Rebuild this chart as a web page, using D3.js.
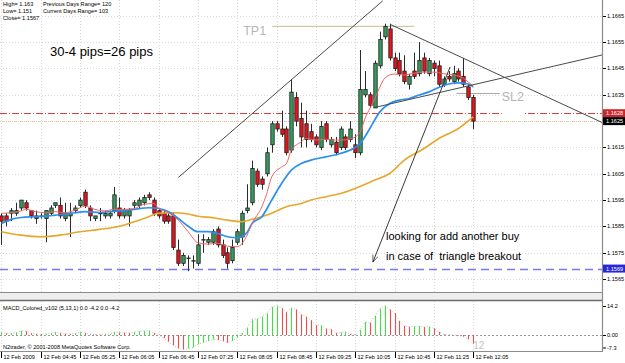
<!DOCTYPE html>
<html>
<head>
<meta charset="utf-8">
<script src="https://cdn.jsdelivr.net/npm/d3@7"></script>
<style>
  body { margin: 0; background: #fff; }
  svg { display: block; font-family: "Liberation Sans", Arial, sans-serif; }
</style>
</head>
<body>
<div id="chart"></div>
<script>
// ---- data (EURUSD-like M5, 12 Feb 2009) ----
var timeLabels = ["12 Feb 2009", "12 Feb 04:45", "12 Feb 05:25", "12 Feb 06:05", "12 Feb 06:45",
  "12 Feb 07:25", "12 Feb 08:05", "12 Feb 08:45", "12 Feb 09:25", "12 Feb 10:05",
  "12 Feb 10:45", "12 Feb 11:25", "12 Feb 12:05"];
var barsPerLabel = 8;

var open = [1.1589,1.1589,1.1590,1.1590,1.1592,1.1594,1.1591,1.1589,1.1589,1.1588,
  1.1590,1.1593,1.1593,1.1588,1.1589,1.1591,1.1593,1.1598,1.1592,1.1588,
  1.1590,1.1589,1.1589,1.1591,1.1592,1.1589,1.1589,1.1593,1.1593,1.1594,
  1.1597,1.1595,1.1591,1.1590,1.1589,1.1589,1.1576,1.1571,1.1573,1.1572,
  1.1571,1.1580,1.1579,1.1579,1.1584,1.1578,1.1575,1.1572,1.1579,1.1581,
  1.1591,1.1594,1.1606,1.1603,1.1605,1.1616,1.1624,1.1622,1.1622,1.1614,
  1.1634,1.1626,1.1624,1.1621,1.1619,1.1615,1.1624,1.1616,1.1617,1.1615,
  1.1619,1.1618,1.1616,1.1613,1.1635,1.1635,1.1630,1.1646,1.1657,1.1660,
  1.1649,1.1648,1.1644,1.1639,1.1644,1.1643,1.1649,1.1643,1.1647,1.1646,
  1.1639,1.1642,1.1640,1.1644,1.1642,1.1638,1.1634];
var high = [1.1590,1.1590,1.1592,1.1594,1.1595,1.1595,1.1591,1.1591,1.1590,1.1591,
  1.1593,1.1594,1.1596,1.1594,1.1594,1.1593,1.1596,1.1599,1.1593,1.1589,
  1.1592,1.1591,1.1591,1.1600,1.1596,1.1592,1.1592,1.1595,1.1596,1.1597,
  1.1598,1.1596,1.1592,1.1591,1.1590,1.1590,1.1580,1.1575,1.1574,1.1574,
  1.1582,1.1582,1.1581,1.1584,1.1585,1.1580,1.1577,1.1580,1.1584,1.1591,
  1.1601,1.1610,1.1607,1.1604,1.1615,1.1625,1.1625,1.1629,1.1623,1.1641,
  1.1636,1.1632,1.1629,1.1624,1.1620,1.1625,1.1625,1.1619,1.1619,1.1623,
  1.1620,1.1625,1.1620,1.1652,1.1644,1.1636,1.1648,1.1659,1.1662,1.1662,
  1.1651,1.1651,1.1650,1.1643,1.1651,1.1655,1.1651,1.1649,1.1648,1.1648,
  1.1642,1.1644,1.1646,1.1645,1.1649,1.1639,1.1635];
var low = [1.1578,1.1585,1.1587,1.1589,1.1591,1.1591,1.1588,1.1586,1.1588,1.1579,
  1.1589,1.1592,1.1588,1.1587,1.1581,1.1590,1.1592,1.1592,1.1587,1.1587,
  1.1587,1.1588,1.1588,1.1590,1.1588,1.1588,1.1585,1.1592,1.1592,1.1593,
  1.1595,1.1589,1.1588,1.1586,1.1586,1.1576,1.1570,1.1570,1.1568,1.1569,
  1.1570,1.1575,1.1578,1.1578,1.1577,1.1573,1.1569,1.1571,1.1578,1.1578,
  1.1590,1.1593,1.1600,1.1599,1.1604,1.1613,1.1621,1.1619,1.1612,1.1613,
  1.1623,1.1615,1.1615,1.1617,1.1615,1.1614,1.1617,1.1615,1.1612,1.1614,
  1.1614,1.1617,1.1611,1.1612,1.1634,1.1630,1.1630,1.1645,1.1656,1.1648,
  1.1644,1.1642,1.1639,1.1637,1.1641,1.1642,1.1643,1.1642,1.1642,1.1638,
  1.1638,1.1640,1.1639,1.1640,1.1638,1.1633,1.1622];
var close = [1.1587,1.1587,1.1591,1.1591,1.1595,1.1592,1.1589,1.1588,1.1589,1.1591,
  1.1592,1.1594,1.1589,1.1590,1.1590,1.1592,1.1595,1.1593,1.1589,1.1589,
  1.1590,1.1590,1.1590,1.1597,1.1589,1.1591,1.1591,1.1594,1.1595,1.1596,
  1.1596,1.1590,1.1589,1.1587,1.1587,1.1577,1.1571,1.1574,1.1573,1.1572,
  1.1578,1.1580,1.1580,1.1583,1.1578,1.1574,1.1571,1.1577,1.1583,1.1590,
  1.1592,1.1607,1.1601,1.1601,1.1613,1.1624,1.1622,1.1620,1.1613,1.1636,
  1.1625,1.1619,1.1618,1.1618,1.1616,1.1623,1.1618,1.1618,1.1613,1.1622,
  1.1615,1.1622,1.1613,1.1637,1.1637,1.1631,1.1647,1.1656,1.1661,1.1649,
  1.1645,1.1643,1.1640,1.1642,1.1642,1.1648,1.1644,1.1648,1.1645,1.1639,
  1.1641,1.1641,1.1643,1.1641,1.1639,1.1634,1.1625];

// moving averages, sampled at the bars where they were read
var maFastBars = [0,2,4,5,7,9,11,13,15,17,19,21,23,25,27,29,31,32,34,36,38,40,42,44,46,48,50,51,53,54,
  55,57,58,59,61,62,64,66,68,69,71,73,74,75,76,77,78,80,82,84,86,88,90,92,94,95,96];
var maFast = [1.15900,1.15902,1.15909,1.15915,1.15906,1.15902,1.15906,1.15902,1.15912,1.15927,
  1.15915,1.15909,1.15915,1.15915,1.15918,1.15934,1.15937,1.15918,1.15902,1.15874,
  1.15830,1.15788,1.15783,1.15786,1.15775,1.15773,1.15817,1.15861,1.15925,1.15975,
  1.16038,1.16076,1.16089,1.16140,1.16171,1.16184,1.16178,1.16181,1.16178,1.16178,
  1.16182,1.16208,1.16261,1.16299,1.16337,1.16379,1.16413,1.16429,1.16425,1.16432,
  1.16436,1.16436,1.16430,1.16425,1.16413,1.16398,1.16383];
var maMidBars = [0,2,4,7,9,11,13,15,17,20,22,24,27,30,32,34,36,38,40,42,44,46,48,49,50,51,53,55,57,59,
  61,63,66,69,71,73,75,77,79,81,83,85,87,89,91,93,95,96];
var maMid = [1.15861,1.15877,1.15884,1.15887,1.15889,1.15893,1.15897,1.15902,1.15906,1.15903,
  1.15906,1.15909,1.15915,1.15921,1.15918,1.15906,1.15880,1.15851,1.15830,1.15830,
  1.15823,1.15811,1.15807,1.15811,1.15828,1.15861,1.15887,1.15950,1.16013,1.16064,
  1.16089,1.16102,1.16114,1.16127,1.16140,1.16165,1.16223,1.16285,1.16317,1.16330,
  1.16336,1.16349,1.16361,1.16378,1.16391,1.16395,1.16391,1.16380];
var maSlowBars = [0,4,8,12,16,20,24,27,30,32,35,38,40,43,46,49,51,53,55,58,61,63,66,69,76,79,82,86,89,93,96];
var maSlow = [1.15830,1.15817,1.15811,1.15817,1.15830,1.15839,1.15851,1.15868,1.15887,1.15900,
  1.15902,1.15897,1.15889,1.15883,1.15874,1.15868,1.15877,1.15887,1.15900,1.15925,
  1.15937,1.15950,1.15963,1.15975,1.16026,1.16051,1.16102,1.16146,1.16184,1.16222,1.16266];

var macd = [1.2,0.8,0.9,1.2,2.0,1.8,0.9,0.5,0.4,0.6,
  0.9,1.3,1.0,0.6,0.5,0.8,1.3,1.0,0.4,0.2,
  0.2,0.4,0.5,1.4,1.2,1.1,1.0,1.4,1.8,2.0,
  2.1,1.0,0.1,-1.5,-3.2,-5.0,-6.5,-7.0,-6.6,-6.1,
  -4.5,-3.7,-2.9,-2.1,-2.4,-2.9,-3.7,-2.9,-1.3,1.0,
  3.5,7.6,7.9,8.9,10.5,13.7,14.2,13.2,11.1,13.2,
  12.4,10.0,8.9,7.3,4.7,4.8,3.1,2.8,1.0,1.3,
  1.5,0.5,0.2,2.5,6.3,6.0,9.2,12.8,14.2,12.4,
  10.5,6.8,4.4,4.0,4.2,4.3,3.9,4.0,3.2,1.5,
  0.3,0.1,0.0,-0.2,-0.8,-2.1,-4.2];

var priceTicks = [1.1665, 1.1655, 1.1645, 1.1635, 1.1615, 1.1605, 1.1595, 1.1585, 1.1575, 1.1565];
var macdTicks = [14.2, 0, -7.3];
var macdTickLabels = ["14.2", "0.00", "-7.3"];

// horizontal levels: red dash-dot, bid (tan dotted), blue dashed
var levelPrices = [1.1628, 1.1625, 1.1569];

// drawn objects: [bar, price] pairs
var risingLine = [[36.0, 1.16036], [77.6, 1.16707]];
var triUpper = [[79.06, 1.16618], [122.2, 1.16245]];
var triLower = [[76.0, 1.16302], [122.2, 1.16501]];
var arrowLine = [[91.3, 1.16456], [75.6, 1.15715]];
var tp1Line = [[55.1, 1.1661], [84.0, 1.1661]];
var sl2Line = [[92.6, 1.16355], [101.4, 1.16355]];

var infoRows = [["High= 1.163", "Previous Days Range= 120"],
  ["Low= 1.151", "Current Days Range= 103"],
  ["Close= 1.1567", ""]];

// ---- layout ----
var W = 625, H = 363;
var axisX = 602;
var mainBottom = 292;
var macdTop = 301, macdBottom = 351;
var small = 5.6;

var svg = d3.select("#chart").append("svg")
    .attr("width", W)
    .attr("height", H);

svg.append("rect").attr("width", W).attr("height", H).attr("fill", "#ffffff");

var x = d3.scaleLinear().domain([0, 96]).range([1.4, 473.2]);
var y = d3.scaleLinear().domain([1.15601, 1.16710]).range([mainBottom, 0]);
var ym = d3.scaleLinear().domain([-7.76, 16.5]).range([macdBottom, macdTop]);

var defs = svg.append("defs");
defs.append("clipPath").attr("id", "clipMain")
  .append("rect").attr("x", 0).attr("y", 0).attr("width", axisX).attr("height", mainBottom);
defs.append("marker")
    .attr("id", "arrowHead")
    .attr("viewBox", "0 0 10 10")
    .attr("refX", 10).attr("refY", 5)
    .attr("markerWidth", 7).attr("markerHeight", 7)
    .attr("orient", "auto")
  .append("path")
    .attr("d", "M0,1L10,5L0,9")
    .attr("fill", "none")
    .attr("stroke", "#333");

// grid (dotted)
var grid = svg.append("g").attr("stroke", "#dadada").attr("stroke-dasharray", "1,2");
priceTicks.concat([1.1625]).forEach(function(p) {
  var yy = Math.round(y(p)) + 0.5;
  grid.append("line").attr("x1", 0).attr("x2", axisX).attr("y1", yy).attr("y2", yy);
});
timeLabels.forEach(function(t, k) {
  var xx = Math.round(x(k * barsPerLabel)) + 0.5;
  grid.append("line").attr("x1", xx).attr("x2", xx).attr("y1", 0).attr("y2", mainBottom);
  grid.append("line").attr("x1", xx).attr("x2", xx).attr("y1", macdTop).attr("y2", macdBottom);
});

var main = svg.append("g").attr("clip-path", "url(#clipMain)");

// level lines
var levelStyle = [
  {stroke: "#e0403c", dash: "7,2,1,2", w: 1},
  {stroke: "#e6c494", dash: "1,1", w: 1},
  {stroke: "#7a7aee", dash: "8,5", w: 1.5}
];
levelPrices.forEach(function(p, k) {
  var yy = Math.round(y(p)) + 0.5;
  main.append("line")
      .attr("x1", 0).attr("x2", axisX).attr("y1", yy).attr("y2", yy)
      .attr("stroke", levelStyle[k].stroke)
      .attr("stroke-width", levelStyle[k].w)
      .attr("stroke-dasharray", levelStyle[k].dash);
});

// TP1 / SL2 short lines
function seg(g, pts) {
  return g.append("line")
      .attr("x1", x(pts[0][0])).attr("y1", y(pts[0][1]))
      .attr("x2", x(pts[1][0])).attr("y2", y(pts[1][1]));
}
seg(main, tp1Line).attr("stroke", "#cdb999").attr("stroke-width", 1);
seg(main, sl2Line).attr("stroke", "#a8a8a8").attr("stroke-width", 1);

// white patch under SL2 label
main.append("rect")
    .attr("x", x(101.8)).attr("y", y(1.16325))
    .attr("width", 23).attr("height", 16)
    .attr("fill", "#ffffff");

// candles
var bars = d3.range(open.length);
var candles = main.append("g");
bars.forEach(function(i) {
  var cx = Math.round(x(i)) + 0.5;
  var up = close[i] >= open[i];
  candles.append("line")
      .attr("x1", cx).attr("x2", cx)
      .attr("y1", y(high[i])).attr("y2", y(low[i]))
      .attr("stroke", "#2b2b2b").attr("stroke-width", 1);
  var top = y(Math.max(open[i], close[i]));
  var bot = y(Math.min(open[i], close[i]));
  candles.append("rect")
      .attr("x", cx - 1.7).attr("y", top)
      .attr("width", 3.4).attr("height", Math.max(0.5, bot - top))
      .attr("fill", up ? "#379a5e" : "#e3141b")
      .attr("stroke", "#1f1f1f").attr("stroke-width", 0.8);
});

// moving averages
function maLine(idx, vals) {
  return d3.line()
      .x(function(d, k) { return x(idx[k]); })
      .y(function(d) { return y(d); })
      .curve(d3.curveMonotoneX)(vals);
}
main.append("path").attr("d", maLine(maSlowBars, maSlow))
    .attr("fill", "none").attr("stroke", "#e7a72c").attr("stroke-width", 1.6);
main.append("path").attr("d", maLine(maMidBars, maMid))
    .attr("fill", "none").attr("stroke", "#2a8ff0").attr("stroke-width", 1.7);
main.append("path").attr("d", maLine(maFastBars, maFast))
    .attr("fill", "none").attr("stroke", "#f06464").attr("stroke-width", 1);

// trend lines
[risingLine, triUpper, triLower].forEach(function(l) {
  seg(main, l).attr("stroke", "#4a4a4a").attr("stroke-width", 1);
});
seg(main, arrowLine).attr("stroke", "#3a3a3a").attr("stroke-width", 1)
    .attr("marker-end", "url(#arrowHead)");

// annotations
main.append("text").attr("x", x(49.2)).attr("y", y(1.16577))
    .attr("font-size", 12.5).attr("fill", "#b5b5b5").text("TP1");
main.append("text").attr("x", x(101.8)).attr("y", y(1.16328))
    .attr("font-size", 12.5).attr("fill", "#b5b5b5").text("SL2");
svg.append("text").attr("x", 50).attr("y", 56)
    .attr("font-size", 13).attr("fill", "#000").text("30-4 pips=26 pips");
svg.append("text").attr("x", 386).attr("y", 240)
    .attr("font-size", 11).attr("fill", "#000").text("looking for add another buy");
svg.append("text").attr("x", 386).attr("y", 260)
    .attr("font-size", 11).attr("fill", "#000").style("white-space", "pre")
    .text("in case of  triangle breakout");

// info block
infoRows.forEach(function(r, k) {
  svg.append("text").attr("x", 3).attr("y", 6 + k * 7).attr("font-size", small).text(r[0]);
  if (r[1]) svg.append("text").attr("x", 43).attr("y", 6 + k * 7).attr("font-size", small).text(r[1]);
});

// panel separator
svg.append("rect").attr("x", 0).attr("y", mainBottom).attr("width", axisX).attr("height", macdTop - mainBottom)
    .attr("fill", "#eeeeee");
svg.append("line").attr("x1", 0).attr("x2", axisX + 1).attr("y1", mainBottom + 0.5).attr("y2", mainBottom + 0.5)
    .attr("stroke", "#8a8a8a");
svg.append("line").attr("x1", 0).attr("x2", axisX + 1).attr("y1", macdTop - 0.5).attr("y2", macdTop - 0.5)
    .attr("stroke", "#6e6e6e").attr("stroke-width", 1.5);

// right price axis
svg.append("line").attr("x1", axisX + 0.5).attr("x2", axisX + 0.5).attr("y1", 0).attr("y2", macdBottom)
    .attr("stroke", "#8c8c8c").attr("stroke-width", 1.2);
priceTicks.forEach(function(p) {
  var yy = Math.round(y(p)) + 0.5;
  svg.append("line").attr("x1", axisX + 1).attr("x2", axisX + 4).attr("y1", yy).attr("y2", yy).attr("stroke", "#000");
  svg.append("text").attr("x", axisX + 5).attr("y", yy).attr("dy", "0.35em")
      .attr("font-size", small).text(d3.format(".4f")(p));
});

// price markers
var markerFill = ["#c8262b", "#000000", "#2727d6"];
levelPrices.forEach(function(p, k) {
  var yy = y(p);
  svg.append("rect").attr("x", axisX + 1).attr("y", yy - 4).attr("width", W - axisX - 1).attr("height", 8)
      .attr("fill", markerFill[k]);
  svg.append("text").attr("x", axisX + 4).attr("y", yy).attr("dy", "0.35em")
      .attr("font-size", small).attr("fill", "#fff").text(d3.format(".4f")(p));
});

// MACD panel
var macdG = svg.append("g");
macdG.append("line").attr("x1", 0).attr("x2", axisX).attr("y1", Math.round(ym(0)) + 0.5).attr("y2", Math.round(ym(0)) + 0.5)
    .attr("stroke", "#9a9a9a").attr("stroke-dasharray", "2,2");
bars.forEach(function(i) {
  var cx = Math.round(x(i)) + 0.5;
  var rising = i === 0 ? macd[i] >= 0 : macd[i] > macd[i - 1];
  macdG.append("line")
      .attr("x1", cx).attr("x2", cx)
      .attr("y1", ym(0)).attr("y2", ym(macd[i]))
      .attr("stroke", rising ? "#3fe33f" : "#f24a4a")
      .attr("stroke-width", 1.1);
});
macdG.append("path")
    .attr("d", d3.line().x(function(d, i) { return x(i); }).y(function(d) { return ym(d); })(macd))
    .attr("fill", "none").attr("stroke", "#a8a8a8").attr("stroke-width", 0.8).attr("stroke-dasharray", "1,2");
macdG.append("text").attr("x", 3).attr("y", 310).attr("font-size", small)
    .text("MACD_Colored_v102 (5,13,1) 0.0 -4.2 0.0 -4.2");
macdG.append("text").attr("x", 3).attr("y", 349).attr("font-size", small)
    .text("N2trader, \u00a9 2001-2008 MetaQuotes Software Corp.");
macdG.append("text").attr("x", x(96)).attr("y", 349).attr("font-size", 10).attr("fill", "#c4c4c4").text("12");
macdTicks.forEach(function(v, k) {
  var yy = Math.min(Math.round(ym(v)) + 0.5, macdBottom - 3);
  svg.append("line").attr("x1", axisX + 1).attr("x2", axisX + 4).attr("y1", yy).attr("y2", yy).attr("stroke", "#000");
  svg.append("text").attr("x", axisX + 5).attr("y", yy).attr("dy", "0.35em")
      .attr("font-size", small).text(macdTickLabels[k]);
});

// time axis
svg.append("line").attr("x1", 0).attr("x2", axisX + 1).attr("y1", macdBottom + 0.5).attr("y2", macdBottom + 0.5)
    .attr("stroke", "#8c8c8c");
timeLabels.forEach(function(t, k) {
  var xx = Math.round(x(k * barsPerLabel)) + 0.5;
  svg.append("line").attr("x1", xx).attr("x2", xx).attr("y1", macdBottom + 1).attr("y2", macdBottom + 7)
      .attr("stroke", "#000");
  svg.append("text").attr("x", xx + 2).attr("y", 359).attr("font-size", small).text(t);
});
</script>
</body>
</html>
